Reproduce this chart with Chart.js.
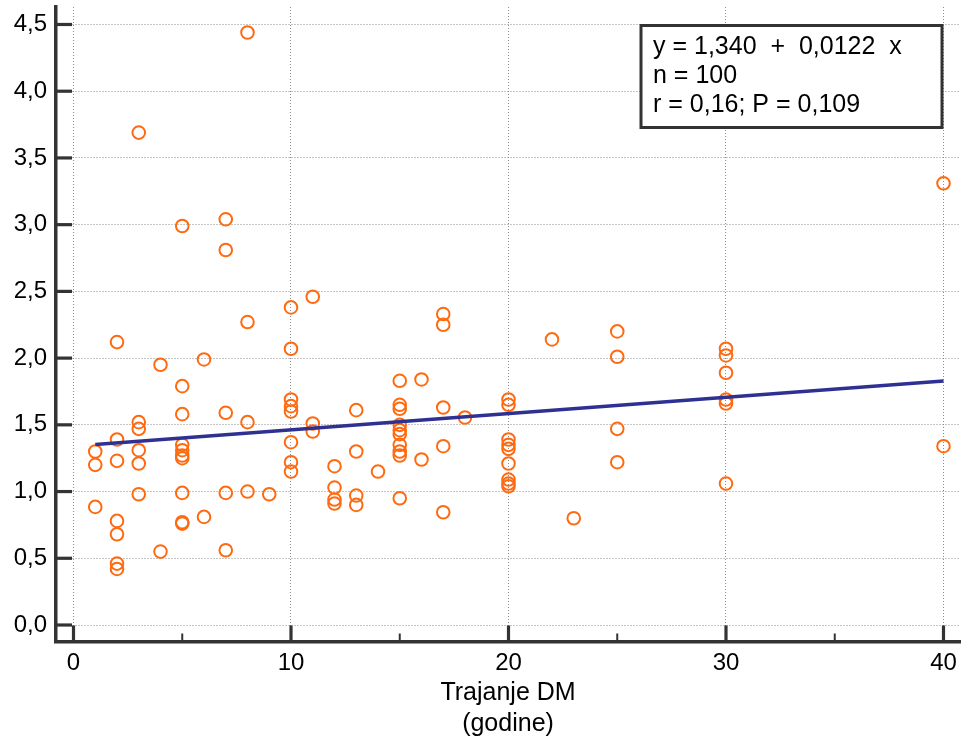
<!DOCTYPE html>
<html>
<head>
<meta charset="utf-8">
<script src="https://cdn.jsdelivr.net/npm/chart.js@4/dist/chart.umd.min.js"></script>
<style>
  html, body { margin: 0; padding: 0; background: #ffffff; }
  #wrap { width: 961px; height: 744px; position: relative; }
</style>
</head>
<body>
<div id="wrap"><canvas id="c" width="961" height="744"></canvas></div>
<script>
// ---- data ----
const durationYears = [
  1, 1, 1,
  2, 2, 2, 2, 2, 2, 2,
  3, 3, 3, 3, 3, 3,
  4, 4,
  5, 5, 5, 5, 5, 5, 5, 5, 5, 5,
  6, 6,
  7, 7, 7, 7, 7,
  8, 8, 8, 8,
  9,
  10, 10, 10, 10, 10, 10, 10, 10,
  11, 11, 11,
  12, 12, 12, 12,
  13, 13, 13, 13,
  14,
  15, 15, 15, 15, 15, 15, 15, 15, 15, 15,
  16, 16,
  17, 17, 17, 17, 17,
  18,
  20, 20, 20, 20, 20, 20, 20, 20, 20,
  22,
  23,
  25, 25, 25, 25,
  30, 30, 30, 30, 30, 30,
  40, 40
];
const measuredValues = [
  1.30, 1.20, 0.885,
  2.12, 1.39, 1.23, 0.78, 0.68, 0.46, 0.42,
  3.69, 1.52, 1.47, 1.31, 1.21, 0.98,
  1.95, 0.55,
  2.99, 1.79, 1.58, 1.35, 1.31, 1.27, 1.25, 0.99, 0.77, 0.76,
  1.99, 0.81,
  3.04, 2.81, 1.59, 0.99, 0.56,
  4.44, 2.27, 1.52, 1.00,
  0.98,
  2.38, 2.07, 1.69, 1.64, 1.60, 1.37, 1.22, 1.15,
  2.46, 1.51, 1.45,
  1.19, 1.03, 0.94, 0.91,
  1.61, 1.30, 0.97, 0.90,
  1.15,
  1.83, 1.65, 1.62, 1.50, 1.46, 1.43, 1.35, 1.30, 1.27, 0.95,
  1.84, 1.24,
  2.33, 2.25, 1.63, 1.34, 0.845,
  1.555,
  1.69, 1.65, 1.39, 1.35, 1.32, 1.21, 1.09, 1.06, 1.04,
  2.14,
  0.80,
  2.20, 2.01, 1.47, 1.22,
  2.07, 2.02, 1.89, 1.69, 1.66, 1.06,
  3.31, 1.34
];
const regIntercept = 1.340;
const regSlope = 0.0122;
const regRangeX = [1, 40];
const xTickValues = [0, 10, 20, 30, 40];
const xMinorTickValues = [5, 15, 25, 35];
const yTickValues = [0, 0.5, 1.0, 1.5, 2.0, 2.5, 3.0, 3.5, 4.0, 4.5];
const xAxisTitle = ['Trajanje DM', '(godine)'];
const statsLines = ['y = 1,340  +  0,0122  x', 'n = 100', 'r = 0,16; P = 0,109'];

// ---- chart ----
const FONT = "'Liberation Sans', Arial, Helvetica, sans-serif";
const AXIS_COLOR = '#333333';

const scatterPoints = durationYears.map((x, i) => ({ x: x, y: measuredValues[i] }));
const regressionPoints = regRangeX.map(x => ({ x: x, y: regIntercept + regSlope * x }));

function noScalePadding(s) {
  s.paddingTop = 0; s.paddingBottom = 0; s.paddingLeft = 0; s.paddingRight = 0;
}

const inwardTicks = {
  id: 'inwardTicks',
  afterDraw(chart) {
    const ctx = chart.ctx;
    const xs = chart.scales.x, ys = chart.scales.y;
    const area = chart.chartArea;
    ctx.save();
    ctx.strokeStyle = AXIS_COLOR;
    ctx.lineCap = 'butt';
    ctx.lineWidth = 3.2;
    xTickValues.forEach(v => {
      const px = xs.getPixelForValue(v);
      ctx.beginPath(); ctx.moveTo(px, area.bottom); ctx.lineTo(px, area.bottom - 16); ctx.stroke();
    });
    yTickValues.forEach(v => {
      const py = ys.getPixelForValue(v);
      ctx.beginPath(); ctx.moveTo(area.left, py); ctx.lineTo(area.left + 16, py); ctx.stroke();
    });
    ctx.lineWidth = 2;
    xMinorTickValues.forEach(v => {
      const px = xs.getPixelForValue(v);
      ctx.beginPath(); ctx.moveTo(px, area.bottom); ctx.lineTo(px, area.bottom - 8); ctx.stroke();
    });
    ctx.restore();
  }
};

const statsBox = {
  id: 'statsBox',
  afterDraw(chart) {
    const ctx = chart.ctx;
    const area = chart.chartArea;
    const left = area.left + 585, top = area.top + 18.5, w = 301, h = 102;
    ctx.save();
    ctx.fillStyle = '#ffffff';
    ctx.fillRect(left, top, w, h);
    ctx.lineWidth = 3;
    ctx.strokeStyle = AXIS_COLOR;
    ctx.strokeRect(left, top, w, h);
    ctx.fillStyle = '#000000';
    ctx.font = '25px ' + FONT;
    ctx.textBaseline = 'alphabetic';
    ctx.textAlign = 'left';
    statsLines.forEach((t, i) => {
      ctx.fillText(t, left + 12, top + 28 + i * 29);
    });
    ctx.restore();
  }
};

new Chart(document.getElementById('c'), {
  type: 'scatter',
  data: {
    datasets: [
      {
        type: 'line',
        label: 'regression',
        data: regressionPoints,
        borderColor: '#2e3192',
        borderWidth: 3.5,
        pointRadius: 0,
        fill: false,
        order: 0
      },
      {
        label: 'values',
        data: scatterPoints,
        pointStyle: 'circle',
        pointRadius: 6.3,
        pointBorderWidth: 2,
        borderColor: '#ff6a10',
        backgroundColor: 'rgba(255,255,255,0)',
        pointHoverRadius: 6.3,
        order: 1
      }
    ]
  },
  options: {
    responsive: false,
    animation: false,
    events: [],
    layout: { autoPadding: false, padding: { top: 7, right: 1, left: 0, bottom: 0 } },
    plugins: { legend: { display: false }, tooltip: { enabled: false } },
    scales: {
      x: {
        type: 'linear',
        position: 'bottom',
        min: -0.8046,
        max: 40.759,
        afterBuildTicks: s => { s.ticks = xTickValues.map(v => ({ value: v })); },
        afterFit: s => { s.height = 102.5; noScalePadding(s); },
        ticks: {
          color: '#000000',
          font: { family: FONT, size: 24 },
          padding: 7,
          maxRotation: 0,
          autoSkip: false,
          callback: v => String(v)
        },
        grid: { color: '#8c8c8c', lineWidth: 1, drawTicks: false },
        border: { color: AXIS_COLOR, width: 3.5, dash: [1, 2] },
        title: {
          display: true,
          text: xAxisTitle,
          color: '#000000',
          font: { family: FONT, size: 25, lineHeight: 1.24 },
          padding: { top: 0, bottom: 4.5 }
        }
      },
      y: {
        type: 'linear',
        position: 'left',
        min: -0.1236,
        max: 4.631,
        afterBuildTicks: s => { s.ticks = yTickValues.map(v => ({ value: v })); },
        afterFit: s => { s.width = 56; noScalePadding(s); },
        ticks: {
          color: '#000000',
          font: { family: FONT, size: 24 },
          padding: 9,
          autoSkip: false,
          callback: v => Number(v).toFixed(1).replace('.', ',')
        },
        grid: { color: '#8c8c8c', lineWidth: 1, drawTicks: false },
        border: { color: AXIS_COLOR, width: 3.5, dash: [1, 2] }
      }
    }
  },
  plugins: [inwardTicks, statsBox]
});
</script>
</body>
</html>
